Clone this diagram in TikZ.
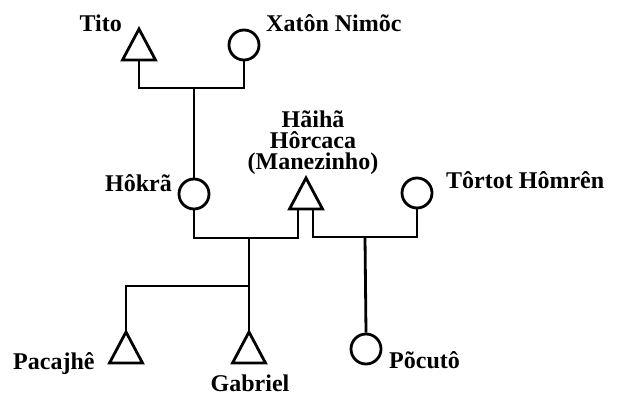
\documentclass[tikz,border=0pt]{standalone}
\usepackage{fontspec}
\setmainfont{Liberation Serif}
\begin{document}
\begin{tikzpicture}[x=1pt,y=-1pt,
  ln/.style={line width=2.8pt,line join=miter},
  fem/.style={circle,draw,line width=2.8pt,minimum size=30pt,inner sep=0pt},
  lbl/.style={font=\fontsize{24}{21}\selectfont\bfseries,inner sep=0pt}]
\useasboundingbox (0,0) rectangle (617,396);
% males (triangles), named by apex
\coordinate (titoA) at (139,29);
\coordinate (haiA) at (306,178);
\coordinate (pacA) at (126,332);
\coordinate (gabA) at (249,332);
\foreach \a in {titoA,haiA,pacA,gabA}
  \draw[ln] (\a) -- ++(-16.5,31) -- ++(33,0) -- cycle;
\coordinate (titoB) at (139,60);
\coordinate (haiL) at (298,209);
\coordinate (haiR) at (313,209);
% females
\node[fem] (xaton) at (244,45) {};
\node[fem] (hokra) at (194,194) {};
\node[fem] (tortot) at (417,193) {};
\node[fem] (pocuto) at (366,349) {};
% junctions
\coordinate (m1) at (194,88);
\coordinate (m2) at (249,238);
\coordinate (m3) at (365,237);
\coordinate (m4) at (249,286);
% connectors
\draw[ln] (titoB) |- (m1) -| (xaton.south);
\draw[ln] (m1) -- (hokra.north);
\draw[ln] (hokra.south) |- (m2) -| (haiL);
\draw[ln] (haiR) |- (m3) -| (tortot.south);
\draw[ln] (m2) -- (gabA);
\draw[ln] (m4) -| (pacA);
\draw[ln] (m3) -- (pocuto.north);
% labels
\node[lbl,anchor=base east] (lTito) at (122,32) {Tito};
\node[lbl,anchor=base west] (lXaton) at (266,32) {Xatôn Nimõc};
\node[lbl,anchor=base east] (lHokra) at (172,191) {Hôkrã};
\node[lbl,anchor=south,align=center] (lHai) at (313,175) {Hãihã\\Hôrcaca\\(Manezinho)};
\node[lbl,anchor=base west] (lTortot) at (446,188) {Tôrtot Hômrên};
\node[lbl,anchor=base west] (lPac) at (13,369) {Pacajhê};
\node[lbl,anchor=base] (lGab) at (250,391) {Gabriel};
\node[lbl,anchor=base west] (lPoc) at (389,368) {Põcutô};
\end{tikzpicture}
\end{document}
